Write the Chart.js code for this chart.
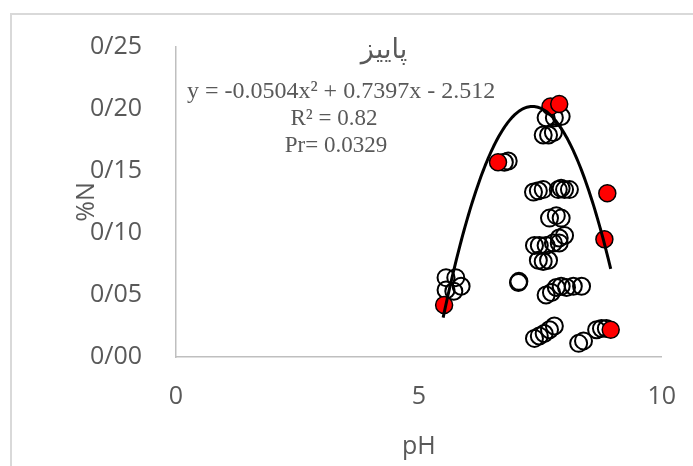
<!DOCTYPE html>
<html>
<head>
<meta charset="utf-8">
<script src="https://cdn.jsdelivr.net/npm/chart.js@4.4.1/dist/chart.umd.min.js"></script>
<style>
  body { margin: 0; background: #fff; overflow: hidden; }
  #wrap { position: relative; width: 693px; height: 466px; }
  #frame { position: absolute; left: 10px; top: 13px; width: 720px; height: 500px;
           border-top: 2px solid #d9d9d9; border-left: 2px solid #d9d9d9; }
  canvas { position: absolute; left: 0; top: 0; }
</style>
</head>
<body>
<div id="wrap">
  <div id="frame"></div>
  <canvas id="scatterChart" width="693" height="466"></canvas>
</div>
<script>
// open circles (pH, %N)
const openPH = [5.56, 5.76, 5.56, 5.72, 5.87, 6.76, 6.84, 7.05, 7.06,
  7.62, 7.79, 7.93, 7.56, 7.67, 7.77,
  7.36, 7.46, 7.56, 7.87, 7.93, 8.0, 8.1,
  7.69, 7.83, 7.93, 8.0, 7.89,
  7.38, 7.48, 7.62, 7.77, 7.89, 7.46, 7.56, 7.67,
  7.62, 7.73, 7.83, 7.93, 8.04, 8.18, 8.35,
  7.38, 7.48, 7.58, 7.69, 7.79, 8.29, 8.39, 8.66, 8.76, 8.86];
const openN = [0.064, 0.064, 0.054, 0.053, 0.057, 0.157, 0.158, 0.060, 0.061,
  0.193, 0.193, 0.194, 0.179, 0.179, 0.181,
  0.133, 0.134, 0.135, 0.135, 0.136, 0.135, 0.135,
  0.112, 0.114, 0.112, 0.098, 0.096,
  0.090, 0.090, 0.090, 0.092, 0.092, 0.078, 0.077, 0.078,
  0.050, 0.052, 0.056, 0.057, 0.056, 0.057, 0.057,
  0.015, 0.017, 0.019, 0.022, 0.025, 0.011, 0.013, 0.022, 0.023, 0.023];

// red filled points
const redPH = [5.52, 6.63, 7.71, 7.89, 8.88, 8.82, 8.95];
const redN = [0.042, 0.157, 0.202, 0.204, 0.132, 0.095, 0.022];

// fitted polynomial shown on the chart: a*x^2 + b*x + c
const trendCoef = [-0.0504, 0.7397, -2.512];
const trendRange = [5.5, 8.95];

const titleText = "پاییز";
const statLines = ["y = -0.0504x² + 0.7397x - 2.512", "R² = 0.82", "Pr= 0.0329"];

const toPoints = (xs, ys) => xs.map((x, i) => ({ x: x, y: ys[i] }));

const trendPoints = [];
for (let x = trendRange[0]; x <= trendRange[1] + 1e-9; x += 0.025) {
  trendPoints.push({ x: x, y: trendCoef[0] * x * x + trendCoef[1] * x + trendCoef[2] });
}

const gray = "#595959";
const tickFont = { family: "'Open Sans', sans-serif", size: 25 };

// title + regression text drawn inside the plot
const textPlugin = {
  id: "statText",
  afterDraw(chart) {
    const c = chart.ctx;
    c.save();
    c.fillStyle = gray;
    c.textAlign = "center";
    c.textBaseline = "alphabetic";
    c.font = "27px 'DejaVu Sans', sans-serif";
    c.fillText(titleText, 384, 58);
    c.font = "24px 'Liberation Serif', 'Times New Roman', serif";
    c.fillText(statLines[0], 341, 98);
    c.font = "23px 'Liberation Serif', 'Times New Roman', serif";
    c.fillText(statLines[1], 334, 125);
    c.fillText(statLines[2], 336, 152);
    c.restore();
  }
};

(function() {
  const ctx = document.getElementById("scatterChart").getContext("2d");
  window.scatterChart = new Chart(ctx, {
    type: "scatter",
    data: {
      datasets: [
        {
          type: "line",
          data: trendPoints,
          borderColor: "#000",
          borderWidth: 3,
          pointRadius: 0,
          fill: false,
          tension: 0
        },
        {
          data: toPoints(redPH, redN),
          backgroundColor: "#ff0000",
          borderColor: "#000",
          borderWidth: 1.5,
          pointRadius: 8.5
        },
        {
          data: toPoints(openPH, openN),
          backgroundColor: "rgba(0,0,0,0)",
          borderColor: "#000",
          borderWidth: 2,
          pointRadius: 8.5
        }
      ]
    },
    options: {
      responsive: false,
      animation: false,
      layout: { padding: { top: 47, right: 28, left: 68, bottom: 0 } },
      plugins: {
        legend: { display: false },
        tooltip: { enabled: false }
      },
      scales: {
        x: {
          type: "linear",
          min: 0,
          max: 10,
          grid: { display: false },
          border: { display: true, color: "#bfbfbf", width: 1.5 },
          ticks: { stepSize: 5, color: gray, font: tickFont, padding: 17 },
          title: { display: true, text: "pH", color: gray, font: tickFont, padding: { top: 5 } },
          afterFit: scale => { scale.height = 109; }
        },
        y: {
          min: 0,
          max: 0.25,
          grid: { display: false },
          border: { display: true, color: "#bfbfbf", width: 1.5 },
          ticks: {
            stepSize: 0.05,
            color: gray,
            font: tickFont,
            padding: 26,
            callback: v => v.toFixed(2).replace(".", "/")
          },
          title: { display: true, text: "%N", color: gray, font: tickFont, padding: { bottom: 0 } },
          afterFit: scale => { scale.width = 108; }
        }
      }
    },
    plugins: [textPlugin]
  });
})();
</script>
</body>
</html>
